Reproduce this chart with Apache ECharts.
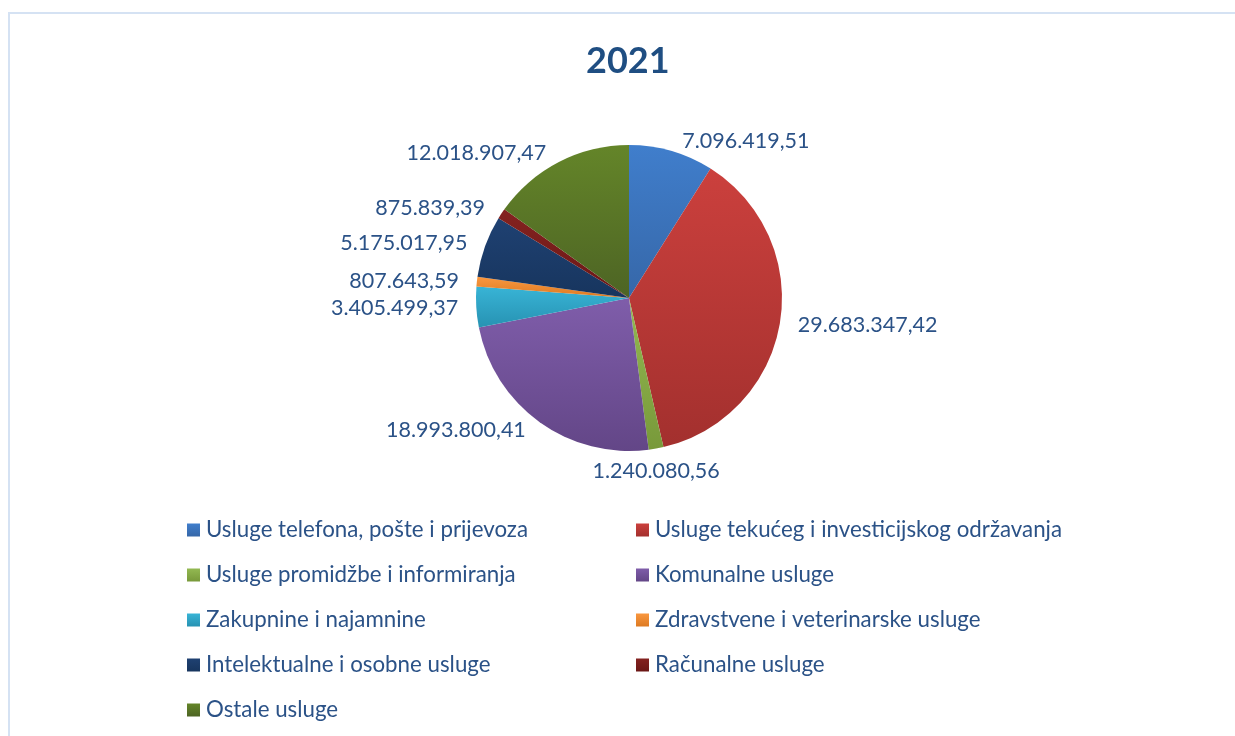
<!DOCTYPE html>
<html>
<head>
<meta charset="utf-8">
<script src="https://cdn.jsdelivr.net/npm/echarts@6/dist/echarts.min.js"></script>
<style>
  html, body { margin: 0; padding: 0; background: #fff; }
  #frame { position: absolute; left: 8px; top: 12px; width: 1240px; height: 740px;
           border-top: 2px solid #D5E2F3; border-left: 2px solid #D5E2F3; }
  #main { position: absolute; left: 0; top: 0; width: 1235px; height: 736px; }
</style>
</head>
<body>
<div id="frame"></div>
<div id="main"></div>
<script>
var chart = echarts.init(document.getElementById('main'));

var title = '2021';
var categories = [
  'Usluge telefona, pošte i prijevoza',
  'Usluge tekućeg i investicijskog održavanja',
  'Usluge promidžbe i informiranja',
  'Komunalne usluge',
  'Zakupnine i najamnine',
  'Zdravstvene i veterinarske usluge',
  'Intelektualne i osobne usluge',
  'Računalne usluge',
  'Ostale usluge'
];
var values = [7096419.51, 29683347.42, 1240080.56, 18993800.41, 3405499.37,
              807643.59, 5175017.95, 875839.39, 12018907.47];
// top / bottom gradient shades per slice
var colorsTop = ['#407ECC', '#CB403D', '#93B952', '#7F5DAA', '#38B4D6',
                 '#F9973F', '#1F4172', '#842220', '#648529'];
var colorsBottom = ['#3667A8', '#A3302E', '#78993A', '#634687', '#2792B2',
                    '#DD7A22', '#17355E', '#6A1716', '#4D6424'];

var textColor = '#2B5287';
var font = 'Lato';
var cx = 629, cy = 298, radius = 153;

function fmt(v) {
  var parts = v.toFixed(2).split('.');
  return parts[0].replace(/\B(?=(\d{3})+(?!\d))/g, '.') + ',' + parts[1];
}

function grad(i) {
  return new echarts.graphic.LinearGradient(0, 0, 0, 1, [
    { offset: 0, color: colorsTop[i] },
    { offset: 1, color: colorsBottom[i] }
  ]);
}

var total = values.reduce(function (a, b) { return a + b; }, 0);
function midAngle(i) {
  var before = 0;
  for (var k = 0; k < i; k++) before += values[k];
  return (before + values[i] / 2) / total * Math.PI * 2;
}

var pieData = categories.map(function (c, i) {
  return { name: c, value: values[i], itemStyle: { color: grad(i) } };
});

var leftItems = categories.filter(function (c, i) { return i % 2 === 0; });
var rightItems = categories.filter(function (c, i) { return i % 2 === 1; });

var legendBase = {
  orient: 'vertical',
  top: 514,
  itemWidth: 13,
  itemHeight: 13,
  itemGap: 23,
  icon: 'rect',
  selectedMode: false,
  textStyle: { fontFamily: font, fontSize: 22.3, color: textColor, padding: [0, 0, 0, 1] }
};

var option = {
  backgroundColor: 'transparent',
  animation: false,
  title: {
    text: title,
    left: 581,
    top: 38,
    textStyle: { fontFamily: font, fontSize: 36, fontWeight: 'bold', color: '#1F4E82' }
  },
  legend: [
    Object.assign({}, legendBase, { left: 182, data: leftItems }),
    Object.assign({}, legendBase, { left: 631, data: rightItems })
  ],
  series: [{
    type: 'pie',
    center: [cx, cy],
    radius: radius,
    startAngle: 90,
    clockwise: true,
    avoidLabelOverlap: true,
    data: pieData,
    itemStyle: { borderWidth: 0 },
    label: {
      show: true,
      position: 'outside',
      formatter: function (p) { return fmt(p.value); },
      fontFamily: font,
      fontSize: 21.5,
      color: textColor
    },
    labelLine: { show: false, length: 10, length2: 3 },
    labelLayout: function (p) {
      // labels of slices pointing almost straight down sit centred under the edge
      var a = midAngle(p.dataIndex);
      var sx = Math.sin(a), sy = -Math.cos(a);
      if (Math.abs(sx) < 0.2 && sy > 0) {
        return {
          x: cx + radius * sx,
          y: cy + radius * sy + p.labelRect.height,
          align: 'center',
          verticalAlign: 'middle'
        };
      }
      return {};
    },
    emphasis: { disabled: true }
  }]
};

chart.setOption(option);
</script>
</body>
</html>
